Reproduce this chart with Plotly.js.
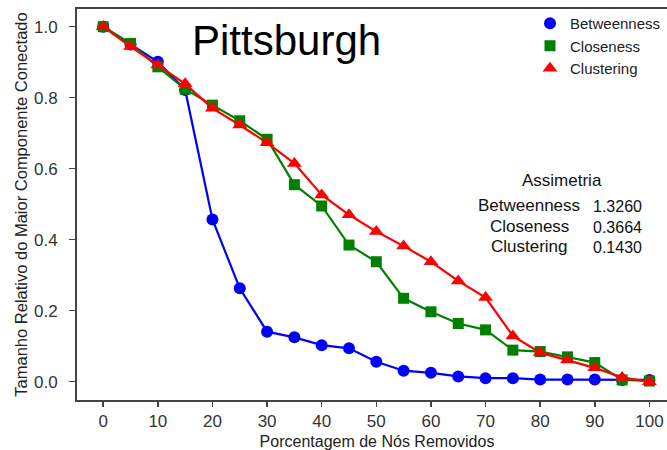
<!DOCTYPE html>
<html>
<head>
<meta charset="utf-8">
<script src="https://cdn.plot.ly/plotly-3.0.1.min.js"></script>
<style>
html, body { margin: 0; padding: 0; overflow: hidden; background: #fff; }
#chart { width: 677px; height: 450px; }
</style>
</head>
<body>
<div id="chart"></div>
<script>
// ---- data ----
const pctRemoved = [0, 5, 10, 15, 20, 25, 30, 35, 40, 45, 50, 55, 60, 65, 70, 75, 80, 85, 90, 95, 100];
const betweenness = [1.0, 0.95, 0.901, 0.822, 0.457, 0.263, 0.141, 0.125, 0.103, 0.094, 0.056, 0.031, 0.025, 0.015, 0.010, 0.010, 0.006, 0.006, 0.006, 0.005, 0.005];
const closeness = [1.0, 0.953, 0.887, 0.824, 0.779, 0.735, 0.683, 0.555, 0.495, 0.385, 0.338, 0.235, 0.197, 0.164, 0.146, 0.089, 0.085, 0.070, 0.054, 0.005, 0.002];
const clustering = [1.0, 0.944, 0.892, 0.839, 0.770, 0.723, 0.673, 0.615, 0.526, 0.470, 0.423, 0.382, 0.338, 0.284, 0.237, 0.129, 0.082, 0.061, 0.039, 0.012, 0.0];
const seriesNames = ["Betweenness", "Closeness", "Clustering"];
const skewLabels = ["Betweenness", "Closeness", "Clustering"];
const skewValues = ["1.3260", "0.3664", "0.1430"];
const xTicks = [0, 10, 20, 30, 40, 50, 60, 70, 80, 90, 100];
const yTicks = [0.0, 0.2, 0.4, 0.6, 0.8, 1.0];

// ---- styles ----
const series = [
  { y: betweenness, color: "#0000ff", symbol: "circle", size: 12 },
  { y: closeness, color: "#008000", symbol: "square", size: 11 },
  { y: clustering, color: "#ff0000", symbol: "triangle-up", size: 13 }
];

const traces = [];
series.forEach((s, i) => {
  traces.push({
    x: pctRemoved, y: s.y, type: "scatter", mode: "lines",
    line: { color: s.color, width: 2.2 }, showlegend: false, hoverinfo: "skip"
  });
  traces.push({
    x: pctRemoved, y: s.y, type: "scatter", mode: "markers", name: seriesNames[i],
    marker: { color: s.color, symbol: s.symbol, size: s.size }
  });
});

// pixel -> paper helpers (plot area 77..677 x 9..400)
const L = 77, T = 9, W = 600, H = 391;
const px = v => (v - L) / W;
const py = v => (T + H - v) / H;

const sans = "Liberation Sans, Arial, sans-serif";
const annotations = [
  { text: "Pittsburgh", x: px(286.5), y: py(40), font: { family: sans, size: 42, color: "#000" }, xanchor: "center" },
  { text: "Assimetria", x: px(562), y: py(180.5), font: { family: sans, size: 17, color: "#111" }, xanchor: "center" }
];
const rowY = [205.5, 226, 246.5];
skewLabels.forEach((lab, i) => {
  annotations.push({ text: lab, x: px(529), y: py(rowY[i]), font: { family: sans, size: 17, color: "#111" }, xanchor: "center" });
  annotations.push({ text: skewValues[i], x: px(591), y: py(rowY[i] + 1), font: { family: sans, size: 16, color: "#111" }, xanchor: "left" });
});
annotations.forEach(a => { a.xref = "paper"; a.yref = "paper"; a.yanchor = "middle"; a.showarrow = false; });

const tickFont = { family: sans, size: 17, color: "#333" };

const layout = {
  width: 677, height: 450,
  margin: { l: L, r: 0, t: T, b: 450 - T - H, pad: 0 },
  paper_bgcolor: "#fff", plot_bgcolor: "#fff",
  showlegend: true,
  legend: {
    x: px(530), y: py(7), xanchor: "left", yanchor: "top",
    bgcolor: "rgba(0,0,0,0)", borderwidth: 0,
    font: { family: sans, size: 15, color: "#222" },
    itemclick: false
  },
  xaxis: {
    range: [-4.8, 105.05], tickvals: xTicks, ticktext: xTicks.map(String),
    showgrid: false, zeroline: false,
    showline: true, linecolor: "#444", linewidth: 2, mirror: true,
    ticks: "outside", ticklen: 5, tickwidth: 1.5, tickcolor: "#444",
    tickfont: tickFont,
    ticklabelstandoff: 0,
    automargin: false,
    title: { text: "Porcentagem de Nós Removidos", font: { family: sans, size: 16, color: "#222" }, standoff: 10 }
  },
  yaxis: {
    range: [-0.0515, 1.0499], tickvals: yTicks, ticktext: yTicks.map(v => v.toFixed(1)),
    showgrid: false, zeroline: false,
    showline: true, linecolor: "#444", linewidth: 2, mirror: true,
    ticks: "outside", ticklen: 6, tickwidth: 1.5, tickcolor: "#444",
    tickfont: tickFont,
    ticklabelstandoff: 8,
    automargin: false,
    title: { text: "Tamanho Relativo do Maior Componente Conectado", font: { family: sans, size: 16.5, color: "#222" }, standoff: 2 }
  },
  annotations: annotations
};

Plotly.newPlot("chart", traces, layout, { displayModeBar: false, staticPlot: true });
</script>
</body>
</html>
